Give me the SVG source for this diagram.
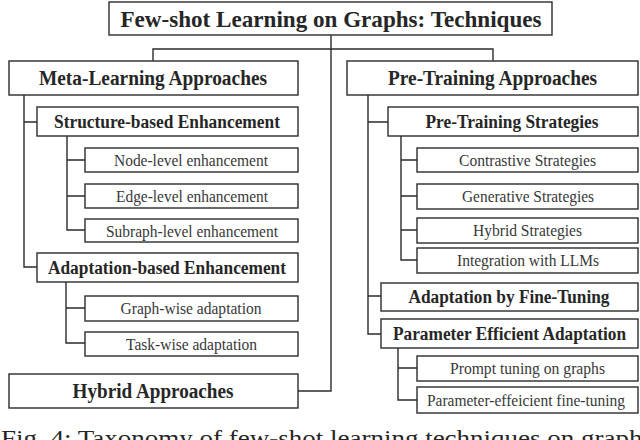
<svg xmlns="http://www.w3.org/2000/svg" width="640" height="440" viewBox="0 0 640 440">
<style>
rect{fill:#fff;stroke:#2b2b2b;stroke-width:1.4}
text{font-family:"Liberation Serif","Times New Roman",serif;fill:#262626;text-anchor:middle}
.t0{font-size:24px;font-weight:bold}
.t1{font-size:20px;font-weight:bold}
.t2{font-size:18px;font-weight:bold}
.t3{font-size:16px;fill:#383838}
.cap{font-size:24px;text-anchor:start}
#connectors path{fill:none;stroke:#2b2b2b;stroke-width:1.4}
</style>
<rect x="0" y="0" width="640" height="440" style="fill:#fff;stroke:none"/>
<g id="connectors">
<path d="M331,35 V391 H298"/>
<path d="M153,61 V49 H493 V61"/>
<path d="M24,95 V267 H37 M24,122 H37"/>
<path d="M67,136 V230 H85 M67,160 H85 M67,196 H85"/>
<path d="M66,282 V343 H85 M66,308 H85"/>
<path d="M368,95 V334 H381 M368,122 H388 M368,296 H381"/>
<path d="M401,136 V260 H417 M401,160 H417 M401,196 H417 M401,230 H417"/>
<path d="M398,348 V400 H417 M398,368 H417"/>
</g>
<g id="root"><rect x="109" y="2" width="443" height="33"/><text class="t0" x="331" y="26.5" textLength="421" lengthAdjust="spacingAndGlyphs">Few-shot Learning on Graphs: Techniques</text></g>
<g id="meta"><rect x="9" y="61" width="289" height="34"/><text class="t1" x="153" y="85" textLength="228" lengthAdjust="spacingAndGlyphs">Meta-Learning Approaches</text></g>
<g id="structure"><rect x="37" y="107" width="261" height="29"/><text class="t2" x="167" y="127.5" textLength="226" lengthAdjust="spacingAndGlyphs">Structure-based Enhancement</text></g>
<g id="node-level"><rect x="85" y="148" width="213" height="24"/><text class="t3" x="191" y="166" textLength="154" lengthAdjust="spacingAndGlyphs">Node-level enhancement</text></g>
<g id="edge-level"><rect x="85" y="184" width="213" height="24"/><text class="t3" x="192" y="202" textLength="152" lengthAdjust="spacingAndGlyphs">Edge-level enhancement</text></g>
<g id="subgraph-level"><rect x="85" y="219" width="213" height="23"/><text class="t3" x="192" y="236.5" textLength="172" lengthAdjust="spacingAndGlyphs">Subraph-level enhancement</text></g>
<g id="adaptation"><rect x="37" y="253" width="261" height="29"/><text class="t2" x="167" y="273.5" textLength="238" lengthAdjust="spacingAndGlyphs">Adaptation-based Enhancement</text></g>
<g id="graph-wise"><rect x="85" y="296" width="213" height="25"/><text class="t3" x="191" y="314" textLength="141" lengthAdjust="spacingAndGlyphs">Graph-wise adaptation</text></g>
<g id="task-wise"><rect x="85" y="332" width="213" height="24"/><text class="t3" x="191.5" y="349.5" textLength="131" lengthAdjust="spacingAndGlyphs">Task-wise adaptation</text></g>
<g id="hybrid"><rect x="9" y="374" width="289" height="34"/><text class="t1" x="153" y="398" textLength="161" lengthAdjust="spacingAndGlyphs">Hybrid Approaches</text></g>
<g id="pretraining"><rect x="347" y="61" width="291" height="34"/><text class="t1" x="492.5" y="85" textLength="209" lengthAdjust="spacingAndGlyphs">Pre-Training Approaches</text></g>
<g id="pt-strategies"><rect x="388" y="107" width="250" height="29"/><text class="t2" x="512" y="127.5" textLength="173" lengthAdjust="spacingAndGlyphs">Pre-Training Strategies</text></g>
<g id="contrastive"><rect x="417" y="148" width="221" height="24"/><text class="t3" x="527.5" y="166" textLength="137" lengthAdjust="spacingAndGlyphs">Contrastive Strategies</text></g>
<g id="generative"><rect x="417" y="184" width="221" height="25"/><text class="t3" x="528" y="202" textLength="132" lengthAdjust="spacingAndGlyphs">Generative Strategies</text></g>
<g id="hybrid-strategies"><rect x="417" y="218" width="221" height="25"/><text class="t3" x="527.5" y="236" textLength="109" lengthAdjust="spacingAndGlyphs">Hybrid Strategies</text></g>
<g id="llms"><rect x="417" y="248" width="221" height="25"/><text class="t3" x="528" y="266" textLength="142" lengthAdjust="spacingAndGlyphs">Integration with LLMs</text></g>
<g id="fine-tuning"><rect x="381" y="283" width="257" height="28"/><text class="t2" x="509" y="303" textLength="201" lengthAdjust="spacingAndGlyphs">Adaptation by Fine-Tuning</text></g>
<g id="param-efficient"><rect x="381" y="319" width="257" height="29"/><text class="t2" x="509.5" y="339.5" textLength="233" lengthAdjust="spacingAndGlyphs">Parameter Efficient Adaptation</text></g>
<g id="prompt"><rect x="417" y="356" width="221" height="25"/><text class="t3" x="527.5" y="374" textLength="155" lengthAdjust="spacingAndGlyphs">Prompt tuning on graphs</text></g>
<g id="peft"><rect x="417" y="387" width="221" height="26"/><text class="t3" x="526" y="405.5" textLength="198" lengthAdjust="spacingAndGlyphs">Parameter-effeicient fine-tuning</text></g>
<text class="cap" x="1" y="446" textLength="652" lengthAdjust="spacingAndGlyphs">Fig. 4: Taxonomy of few-shot learning techniques on graphs</text>
</svg>
